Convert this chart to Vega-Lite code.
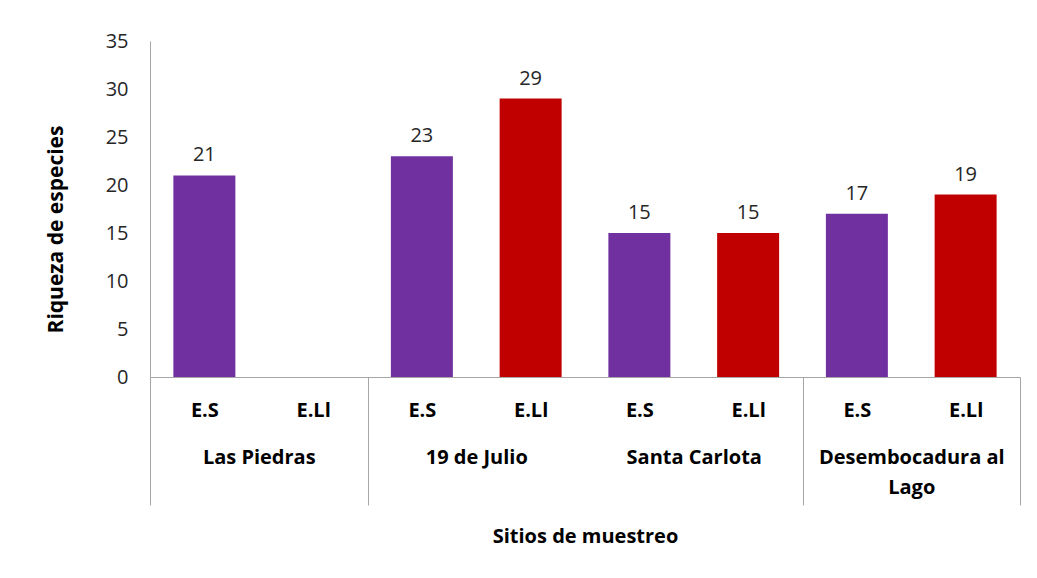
{
  "$schema": "https://vega.github.io/schema/vega-lite/v6.json",
  "width": 870,
  "height": 336,
  "autosize": {"type": "none"},
  "padding": {"left": 150, "top": 41, "right": 17, "bottom": 201},
  "background": "white",
  "config": {"view": {"stroke": null}, "font": "Open Sans"},
  "data": {
    "values": [
      {"sitio": "Las Piedras", "tipo": "E.S", "key": "Las Piedras|E.S", "riqueza": 21},
      {"sitio": "Las Piedras", "tipo": "E.Ll", "key": "Las Piedras|E.Ll", "riqueza": null},
      {"sitio": "19 de Julio", "tipo": "E.S", "key": "19 de Julio|E.S", "riqueza": 23},
      {"sitio": "19 de Julio", "tipo": "E.Ll", "key": "19 de Julio|E.Ll", "riqueza": 29},
      {"sitio": "Santa Carlota", "tipo": "E.S", "key": "Santa Carlota|E.S", "riqueza": 15},
      {"sitio": "Santa Carlota", "tipo": "E.Ll", "key": "Santa Carlota|E.Ll", "riqueza": 15},
      {"sitio": "Desembocadura al Lago", "tipo": "E.S", "key": "Desembocadura al Lago|E.S", "riqueza": 17},
      {"sitio": "Desembocadura al Lago", "tipo": "E.Ll", "key": "Desembocadura al Lago|E.Ll", "riqueza": 19}
    ]
  },
  "layer": [
    {
      "encoding": {
        "x": {
          "field": "key",
          "type": "nominal",
          "sort": null,
          "scale": {
            "domain": ["Las Piedras|E.S", "Las Piedras|E.Ll", "19 de Julio|E.S", "19 de Julio|E.Ll", "Santa Carlota|E.S", "Santa Carlota|E.Ll", "Desembocadura al Lago|E.S", "Desembocadura al Lago|E.Ll"],
            "paddingInner": 0,
            "paddingOuter": 0
          },
          "axis": {
            "orient": "bottom",
            "title": null,
            "labelExpr": "split(datum.value, '|')[1]",
            "labelAngle": 0,
            "labelFont": "Open Sans",
            "labelFontWeight": "bold",
            "labelFontSize": 20,
            "labelColor": "#000000",
            "labelBaseline": "middle",
            "labelPadding": -95,
            "domainColor": "#a6a6a6",
            "domainWidth": 1,
            "tickBand": "extent",
            "tickSize": 128,
            "tickWidth": 1,
            "tickColor": {
              "condition": {
                "test": "datum.extra || datum.value == 'Las Piedras|E.Ll' || datum.value == 'Santa Carlota|E.Ll' || datum.value == 'Desembocadura al Lago|E.Ll'",
                "value": "#a6a6a6"
              },
              "value": "transparent"
            }
          }
        },
        "y": {
          "field": "riqueza",
          "type": "quantitative",
          "scale": {"domain": [0, 35], "nice": false},
          "axis": {
            "title": "Riqueza de especies",
            "titleFont": "Open Sans",
            "titleFontSize": 21,
            "titleFontWeight": "bold",
            "titleColor": "#000000",
            "titlePadding": 39,
            "titleY": 188,
            "values": [0, 5, 10, 15, 20, 25, 30, 35],
            "grid": false,
            "ticks": false,
            "labelFont": "Open Sans",
            "labelFontSize": 20,
            "labelColor": "#262626",
            "labelPadding": 22,
            "domainColor": "#a6a6a6",
            "domainWidth": 1
          }
        }
      },
      "layer": [
        {
          "mark": {"type": "bar", "width": {"band": 0.57}},
          "encoding": {
            "color": {
              "field": "tipo",
              "type": "nominal",
              "scale": {"domain": ["E.S", "E.Ll"], "range": ["#7030A0", "#C00000"]},
              "legend": null
            }
          }
        },
        {
          "mark": {"type": "text", "baseline": "bottom", "dy": -10, "font": "Open Sans", "fontSize": 20, "color": "#262626"},
          "encoding": {"text": {"field": "riqueza", "type": "quantitative"}}
        }
      ]
    },
    {
      "mark": {"type": "text", "text": ""},
      "encoding": {
        "x": {
          "field": "sitio",
          "type": "nominal",
          "sort": null,
          "scale": {
            "domain": ["Las Piedras", "19 de Julio", "Santa Carlota", "Desembocadura al Lago"],
            "paddingInner": 0,
            "paddingOuter": 0
          },
          "axis": {
            "orient": "bottom",
            "title": "Sitios de muestreo",
            "titleFont": "Open Sans",
            "titleFontSize": 20,
            "titleFontWeight": "bold",
            "titleColor": "#000000",
            "titlePadding": 29,
            "labelExpr": "datum.value == 'Desembocadura al Lago' ? ['Desembocadura al', 'Lago'] : datum.value",
            "labelAngle": 0,
            "labelFont": "Open Sans",
            "labelFontWeight": "bold",
            "labelFontSize": 20,
            "labelColor": "#000000",
            "labelBaseline": "top",
            "labelLineHeight": 30,
            "labelPadding": 70,
            "labelLimit": 250,
            "ticks": false,
            "domain": false
          }
        }
      }
    }
  ],
  "resolve": {"scale": {"x": "independent"}, "axis": {"x": "independent"}}
}
